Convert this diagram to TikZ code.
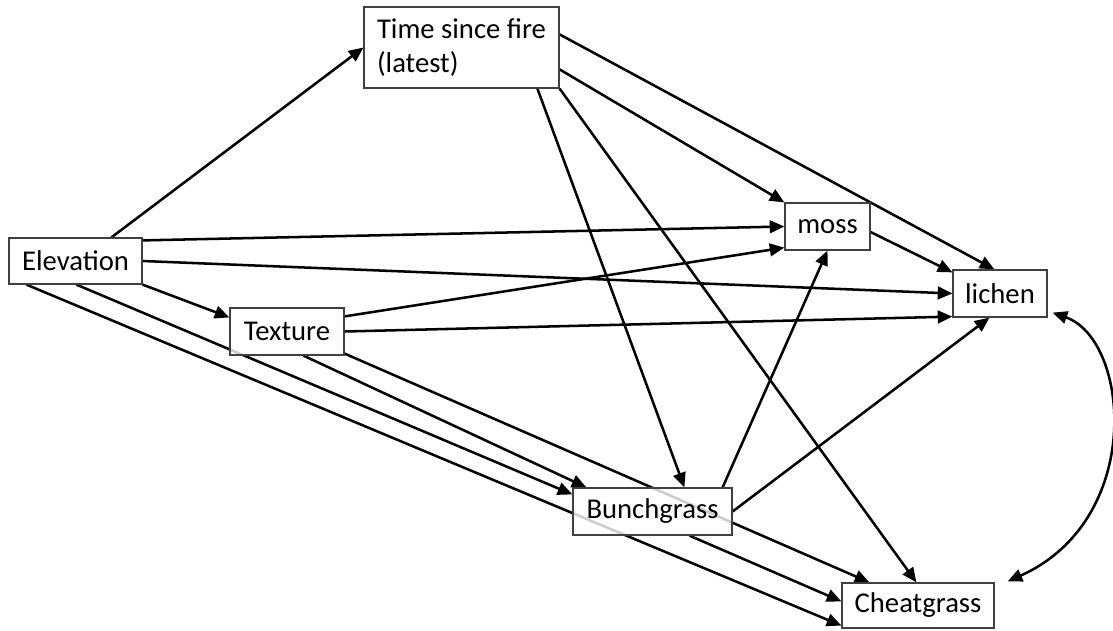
\documentclass[tikz,border=0pt]{standalone}
\usepackage{fontspec}
\setmainfont{Carlito}
\usetikzlibrary{arrows.meta,calc}
\pgfdeclarelayer{edges}
\pgfsetlayers{edges,main}
\begin{document}
\begin{tikzpicture}[x=0.75pt,y=-0.75pt,
  box/.style={draw=black!75,line width=0.9pt,fill=white,fill opacity=0.8,text opacity=1,
    inner sep=0pt,font=\fontsize{21.5}{25}\selectfont},
  link/.style={line width=1.9pt,-{Triangle[length=11pt,width=9.5pt]}},
  dlink/.style={line width=1.9pt,{Triangle[length=11pt,width=9.5pt]}-{Triangle[length=11pt,width=9.5pt]}}]
\useasboundingbox (0,0) rectangle (1113,631);
\node[box,minimum width=146.25pt,minimum height=60.75pt,align=left] (time) at (461.5,47.5) {Time since fire\\(latest)};
\node[box,minimum width=99.75pt,minimum height=34.5pt] (elev) at (75.5,261) {Elevation};
\node[box,minimum width=85.5pt,minimum height=35.25pt] (tex) at (287,331.5) {Texture};
\node[box,minimum width=63.75pt,minimum height=35.25pt] (moss) at (827.5,226.5) {moss};
\node[box,minimum width=70.5pt,minimum height=35.25pt] (lichen) at (1000,293.5) {lichen};
\node[box,minimum width=119.25pt,minimum height=35.25pt] (bunch) at (652.5,511.5) {Bunchgrass};
\node[box,minimum width=114pt,minimum height=33.75pt] (cheat) at (918,605.5) {Cheatgrass};
\begin{pgfonlayer}{edges}
\draw[link] ($(elev.north west)+(103,0)$) -- (time.west);
\draw[link] ($(elev.north east)+(0,3)$) -- (moss.west);
\draw[link] (elev.east) -- (lichen.west);
\draw[link] (elev.south east) -- ($(tex.north west)+(0,10)$);
\draw[link] ($(elev.south west)+(68,0)$) -- ($(bunch.north west)+(0,7)$);
\draw[link] ($(elev.south west)+(18,0)$) -- ($(cheat.south west)+(0,-3)$);
\draw[link] ($(tex.south west)+(74,0)$) -- ($(bunch.north west)+(14,0)$);
\draw[link] ($(tex.south east)+(0,-2)$) -- ($(cheat.north west)+(28,0)$);
\draw[link] ($(tex.north east)+(0,9)$) -- ($(moss.south west)+(0,-3)$);
\draw[link] (tex.east) -- ($(lichen.south west)+(0,-1)$);
\draw[link] ($(time.north east)+(0,63)$) -- (moss.north west);
\draw[link] ($(time.north east)+(0,28)$) -- ($(lichen.north west)+(42,0)$);
\draw[link] ($(time.south west)+(174,0)$) -- ($(bunch.north west)+(112,0)$);
\draw[link] (time.south east) -- ($(cheat.north west)+(75,0)$);
\draw[link] ($(bunch.north east)+(-10,0)$) -- (moss.south);
\draw[link] (bunch.east) -- ($(lichen.south west)+(37,0)$);
\draw[link] ($(moss.east)+(0,5.5)$) -- ($(lichen.north west)+(0,3)$);
\draw[link] ($(bunch.south west)+(117,0)$) -- ($(cheat.north west)+(0,19)$);
\draw[dlink] ($(lichen.south east)+(5,-5)$) .. controls (1130,340) and (1145,520) .. ($(cheat.north east)+(13,-1)$);
\end{pgfonlayer}
\end{tikzpicture}
\end{document}
